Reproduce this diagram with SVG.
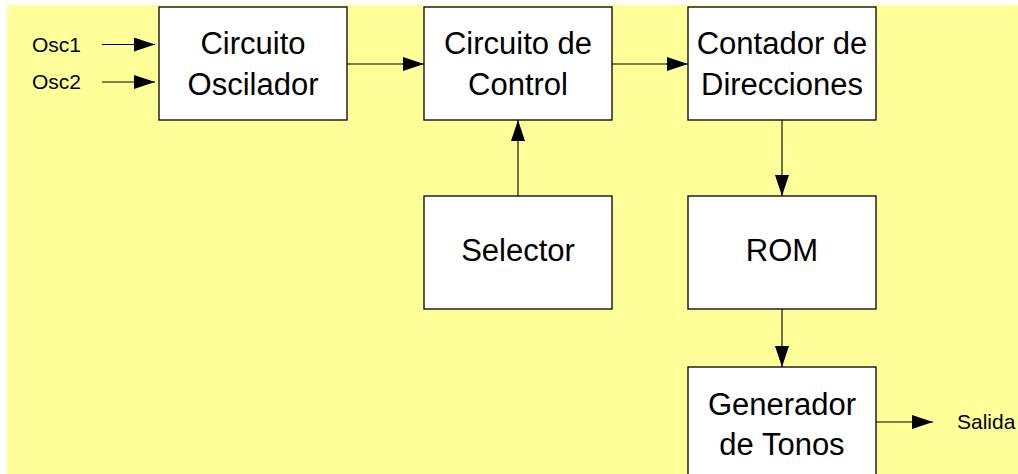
<svg xmlns="http://www.w3.org/2000/svg" width="1018" height="474" viewBox="0 0 1018 474">
<style>
.box{fill:#ffffff;stroke:#000000;stroke-width:1.3}
.lbl{font-family:"Liberation Sans",Arial,sans-serif;font-size:31px;fill:#000000;text-anchor:middle}
.sm{font-family:"Liberation Sans",Arial,sans-serif;font-size:21px;fill:#000000}
.wire{stroke:#000000;stroke-width:1.1;fill:none;marker-end:url(#ah)}
</style>
<defs>
<marker id="ah" markerUnits="userSpaceOnUse" markerWidth="21" markerHeight="14" refX="21" refY="7" orient="auto">
<path d="M0,0 L21,7 L0,14 z" fill="#000000"/>
</marker>
</defs>
<rect x="7" y="5" width="1011" height="469" fill="#ffff99"/>
<g id="osc">
<rect class="box" x="159" y="7" width="188" height="113"/>
<text class="lbl" x="253" y="54">Circuito</text>
<text class="lbl" x="253" y="94.5">Oscilador</text>
</g>
<g id="control">
<rect class="box" x="424" y="7" width="188" height="113"/>
<text class="lbl" x="518" y="54">Circuito de</text>
<text class="lbl" x="518" y="94.5">Control</text>
</g>
<g id="contador">
<rect class="box" x="688" y="7" width="188" height="113"/>
<text class="lbl" x="782" y="54">Contador de</text>
<text class="lbl" x="782" y="94.5">Direcciones</text>
</g>
<g id="selector">
<rect class="box" x="424" y="196" width="188" height="113"/>
<text class="lbl" x="518" y="260.5">Selector</text>
</g>
<g id="rom">
<rect class="box" x="688" y="196" width="188" height="113"/>
<text class="lbl" x="782" y="260.5">ROM</text>
</g>
<g id="generador">
<rect class="box" x="688" y="367" width="188" height="113"/>
<text class="lbl" x="782" y="414.5">Generador</text>
<text class="lbl" x="782" y="455">de Tonos</text>
</g>
<g id="labels">
<text class="sm" x="32" y="51.5">Osc1</text>
<text class="sm" x="32" y="88.5">Osc2</text>
<text class="sm" x="957" y="428.5">Salida</text>
</g>
<g id="connectors">
<line class="wire" x1="102" y1="44.5" x2="155" y2="44.5"/>
<line class="wire" x1="102" y1="82" x2="155" y2="82"/>
<line class="wire" x1="347" y1="64" x2="424" y2="64"/>
<line class="wire" x1="612" y1="64" x2="688" y2="64"/>
<line class="wire" x1="518" y1="196" x2="518" y2="120"/>
<line class="wire" x1="782" y1="120" x2="782" y2="196"/>
<line class="wire" x1="782" y1="309" x2="782" y2="367"/>
<line class="wire" x1="876" y1="422" x2="933" y2="422"/>
</g>
</svg>
